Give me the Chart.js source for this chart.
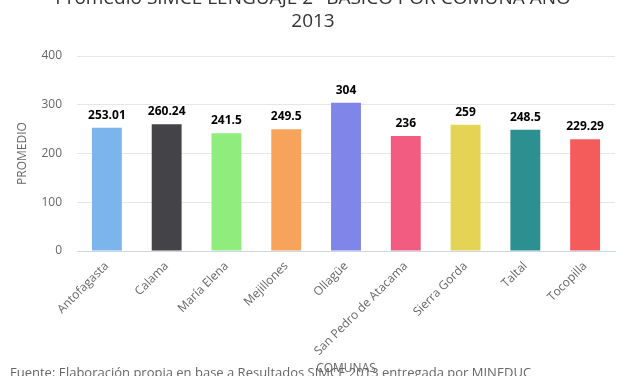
<!DOCTYPE html>
<html>
<head>
<meta charset="utf-8">
<script src="https://cdn.jsdelivr.net/npm/chart.js@4/dist/chart.umd.min.js"></script>
<style>
html,body{margin:0;padding:0;background:#fff;}
#wrap{width:627px;height:376px;position:relative;}
</style>
</head>
<body>
<div id="wrap"><canvas id="c" width="627" height="376"></canvas></div>
<script>
const categories = ["Antofagasta","Calama","María Elena","Mejillones","Ollagüe","San Pedro de Atacama","Sierra Gorda","Taltal","Tocopilla"];
const values = [253.01, 260.24, 241.5, 249.5, 304, 236, 259, 248.5, 229.29];
const barColors = ["#7cb5ec","#434348","#90ed7d","#f7a35c","#8085e9","#f15c80","#e4d354","#2b908f","#f45b5b"];
const yTicks = [0, 100, 200, 300, 400];
const titleLines = ["Promedio SIMCE LENGUAJE 2° BÁSICO POR COMUNA AÑO", "2013"];
const yTitle = "PROMEDIO";
const xTitle = "COMUNAS";
const credits = "Fuente: Elaboración propia en base a Resultados SIMCE 2013 entregada por MINEDUC";

const FONT = "'Open Sans', 'DejaVu Sans', sans-serif";

const overlay = {
  id: 'overlay',
  afterDatasetsDraw(chart) {
    const ctx = chart.ctx;
    const meta = chart.getDatasetMeta(0);
    ctx.save();
    ctx.font = "bold 12px " + FONT;
    ctx.textAlign = 'center';
    ctx.textBaseline = 'alphabetic';
    meta.data.forEach((bar, i) => {
      const t = String(values[i]);
      ctx.lineWidth = 3;
      ctx.strokeStyle = '#ffffff';
      ctx.lineJoin = 'round';
      ctx.strokeText(t, bar.x, bar.y - 9);
      ctx.fillStyle = '#000000';
      ctx.fillText(t, bar.x, bar.y - 9);
    });
    ctx.restore();
  },
  afterDraw(chart) {
    const ctx = chart.ctx;
    ctx.save();
    ctx.fillStyle = '#333333';
    ctx.font = "19px " + FONT;
    ctx.textAlign = 'center';
    ctx.textBaseline = 'alphabetic';
    const cx = 313;
    ctx.fillText(titleLines[0], cx, 4);
    ctx.fillText(titleLines[1], cx, 27);
    ctx.fillStyle = '#666666';
    ctx.font = "13px " + FONT;
    ctx.textAlign = 'left';
    ctx.fillText(credits, 10, 377);
    ctx.restore();
  }
};

new Chart(document.getElementById('c'), {
  type: 'bar',
  data: {
    labels: categories,
    datasets: [{
      data: values,
      backgroundColor: barColors,
      borderWidth: 0,
      barPercentage: 0.5,
      categoryPercentage: 1
    }]
  },
  options: {
    responsive: false,
    animation: false,
    devicePixelRatio: 1,
    layout: { padding: { top: 56, right: 12, left: 0, bottom: 0 } },
    plugins: { legend: { display: false }, tooltip: { enabled: false }, title: { display: false } },
    scales: {
      x: {
        grid: { display: false, drawTicks: false },
        border: { display: true, color: '#ccd6eb', width: 1 },
        ticks: {
          minRotation: 45, maxRotation: 45, autoSkip: false,
          color: '#666666', font: { family: FONT, size: 12 }, padding: 8
        },
        title: { display: true, text: xTitle, color: '#666666', font: { family: FONT, size: 12 }, padding: { top: 0, bottom: 0 } },
        afterFit(s) { s.height = 125; }
      },
      y: {
        min: 0, max: 400,
        afterBuildTicks(s) { s.ticks = yTicks.map(v => ({ value: v })); },
        grid: { color: '#e6e6e6', drawTicks: false },
        border: { display: false },
        ticks: { color: '#666666', font: { family: FONT, size: 12 }, padding: 15 },
        title: { display: true, text: yTitle, color: '#666666', font: { family: FONT, size: 12 }, padding: { top: 15, bottom: 0 } },
        afterFit(s) { s.width = 77; }
      }
    }
  },
  plugins: [overlay]
});
</script>
</body>
</html>
